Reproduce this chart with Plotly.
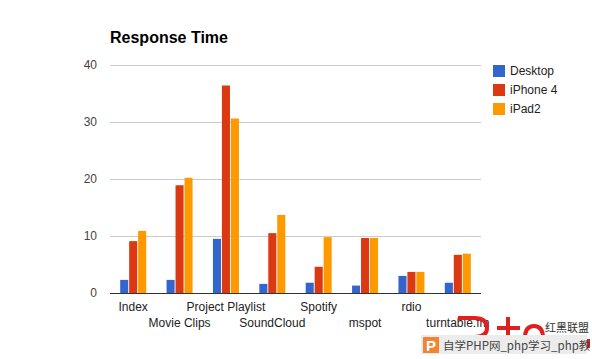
import plotly.graph_objects as go

categories = ["Index", "Movie Clips", "Project Playlist", "SoundCloud", "Spotify", "mspot", "rdio", "turntable.fm"]
desktop = [2.3, 2.3, 9.5, 1.6, 1.8, 1.3, 3.0, 1.8]
iphone4 = [9.1, 18.9, 36.4, 10.5, 4.6, 9.65, 3.7, 6.7]
ipad2 = [10.9, 20.2, 30.6, 13.7, 9.8, 9.65, 3.7, 6.9]
series_names = ["Desktop", "iPhone 4", "iPad2"]
colors = ["#3366cc", "#dc3912", "#ff9900"]
y_ticks = [0, 10, 20, 30, 40]
FONT = "Liberation Sans, Arial, sans-serif"

W, H = 592, 359
LEFT, RIGHT, TOP, BOTTOM = 110, 481, 63, 293
fig = go.Figure()
for name, vals, col in zip(series_names, [desktop, iphone4, ipad2], colors):
    fig.add_trace(go.Bar(x=categories, y=vals, name=name, marker=dict(color=col, line_width=0)))

ticktext = [c if i % 2 == 0 else " <br>" + c for i, c in enumerate(categories)]


def px(x):
    return (x - LEFT) / (RIGHT - LEFT)


def py(y):
    return (BOTTOM - y) / (BOTTOM - TOP)


def rect(x0, y0, x1, y1, color):
    return dict(type="rect", xref="paper", yref="paper", x0=px(x0), x1=px(x1), y0=py(y0), y1=py(y1),
                fillcolor=color, line_width=0, layer="above")


def label(text, x, y, size, color, family=FONT, anchor="left"):
    return dict(text=text, x=px(x), y=py(y), xref="paper", yref="paper", xanchor=anchor, yanchor="middle",
                showarrow=False, xshift=0, borderpad=0, font=dict(size=size, color=color, family=family))


shapes = []
annotations = [label("<b>Response Time</b>", 109, 37, 16, "#000000")]
for name, col, yc in zip(series_names, colors, [71, 90, 109]):
    shapes.append(rect(493, yc - 6, 505, yc + 6, col))
    annotations.append(label(name, 509, yc, 12, "#222222"))

# site watermark, bottom right
LOGO = "#e02020"
for d in [
    f"M {px(458)} {py(318)} L {px(474)} {py(318)} Q {px(487)} {py(318)} {px(487)} {py(328)} Q {px(487)} {py(337)} {px(474)} {py(337)}",
    f"M {px(508)} {py(317)} L {px(508)} {py(337)}",
    f"M {px(497)} {py(328)} L {px(520)} {py(328)}",
    f"M {px(525)} {py(338)} Q {px(525)} {py(326)} {px(534)} {py(326)} Q {px(543)} {py(326)} {px(543)} {py(338)}",
]:
    shapes.append(dict(type="path", xref="paper", yref="paper", path=d, line=dict(color=LOGO, width=4), layer="above"))
shapes.append(rect(586, 339, 590, 348, LOGO))
shapes.append(rect(421, 335, 587, 354, "#ececec"))
shapes.append(rect(423, 337, 439, 353, "#f58233"))
annotations.append(label("红黑联盟", 544, 327, 11, "#333333", "Noto Sans CJK SC"))
annotations.append(label("<b>P</b>", 431, 345, 15, "#ffffff", anchor="center"))
annotations.append(label("自学PHP网_php学习_php教", 442, 345, 11.5, "#444444", "Noto Sans CJK SC"))

fig.update_layout(
    width=W, height=H,
    margin=dict(l=LEFT, r=W - RIGHT, t=TOP, b=H - BOTTOM, pad=0),
    paper_bgcolor="#ffffff", plot_bgcolor="#ffffff",
    barmode="group", bargap=0.42, bargroupgap=0.1,
    showlegend=False,
    font=dict(family=FONT, size=12, color="#222222"),
    shapes=shapes, annotations=annotations,
)
fig.update_xaxes(tickmode="array", tickvals=categories, ticktext=ticktext, ticks="", showgrid=False,
                 showline=True, linecolor="#333333", linewidth=1, zeroline=False, ticklabelstandoff=3,
                 tickangle=0, tickfont=dict(size=12, color="#222222", family=FONT))
fig.update_yaxes(range=[0, 40.35], tickvals=y_ticks, ticks="", gridcolor="#cccccc", gridwidth=1, zeroline=False,
                 showline=False, ticklabelstandoff=12, tickfont=dict(size=12, color="#444444", family=FONT))

fig.write_html("out.html", config=dict(displayModeBar=False), post_script="document.body.style.margin='0';")
